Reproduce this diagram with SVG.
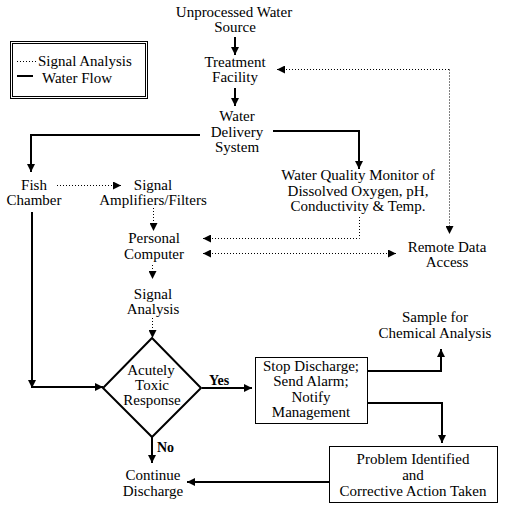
<svg xmlns="http://www.w3.org/2000/svg" width="509" height="511" viewBox="0 0 509 511" font-family="'Liberation Serif', 'DejaVu Serif', serif">
<style>
text{font-family:'Liberation Serif','DejaVu Serif',serif;font-size:15px;fill:#000;text-anchor:middle}
.b{font-weight:bold;font-size:14px}
.l{text-anchor:start}
.s{fill:none;stroke:#000;stroke-width:2}
.d{fill:none;stroke:#000;stroke-width:1;stroke-dasharray:1 2}
.box{fill:#fff;stroke:#000;stroke-width:1}
</style>
<defs>
<marker id="a" viewBox="0 0 8 8" refX="8" refY="4" markerWidth="8" markerHeight="8" markerUnits="userSpaceOnUse" orient="auto-start-reverse">
<path d="M0,0 L8,4 L0,8 z" fill="#000"/>
</marker>
</defs>
<rect width="509" height="511" fill="#fff"/>
<g id="legend">
<rect x="10.5" y="41.5" width="137" height="57" fill="none" stroke="#000"/>
<rect x="12.5" y="43.5" width="133" height="53" fill="none" stroke="#000"/>
<line x1="17" y1="61.5" x2="37" y2="61.5" class="d"/>
<text x="38" y="66" class="l">Signal Analysis</text>
<line x1="17" y1="76" x2="33" y2="76" class="s"/>
<text x="42" y="83" class="l">Water Flow</text>
</g>
<g id="connectors">
<line x1="235" y1="37" x2="235" y2="55" class="s" marker-end="url(#a)"/>
<line x1="235" y1="88" x2="235" y2="106" class="s" marker-end="url(#a)"/>
<polyline points="200,135 31,135 31,172" class="s" marker-end="url(#a)"/>
<polyline points="273,131 359,131 359,169" class="s" marker-end="url(#a)"/>
<polyline points="449,69.5 277,69.5" class="d" marker-end="url(#a)"/>
<polyline points="449.5,69.5 449.5,234" class="d" marker-end="url(#a)"/>
<line x1="57" y1="185.5" x2="121" y2="185.5" class="d" marker-end="url(#a)"/>
<line x1="153.5" y1="208" x2="153.5" y2="231" class="d" marker-end="url(#a)"/>
<polyline points="359.5,217 359.5,238.5 203,238.5" class="d" marker-end="url(#a)"/>
<line x1="203" y1="253.5" x2="396" y2="253.5" class="d" marker-start="url(#a)" marker-end="url(#a)"/>
<line x1="152.5" y1="265" x2="152.5" y2="279" class="d" marker-end="url(#a)"/>
<line x1="152.5" y1="318" x2="152.5" y2="338" class="d" marker-end="url(#a)"/>
<line x1="32" y1="212" x2="32" y2="388" class="s" marker-end="url(#a)"/>
<line x1="31" y1="387" x2="103" y2="387" class="s" marker-end="url(#a)"/>
<line x1="202" y1="388" x2="252" y2="388" class="s" marker-end="url(#a)"/>
<polyline points="368,371 441,371 441,349" class="s" marker-end="url(#a)"/>
<polyline points="368,403 442,403 442,443" class="s" marker-end="url(#a)"/>
<line x1="152" y1="437" x2="152" y2="463" class="s" marker-end="url(#a)"/>
<line x1="329" y1="482" x2="187" y2="482" class="s" marker-end="url(#a)"/>
<text x="219" y="385" class="b">Yes</text>
<text x="157" y="452" class="b l">No</text>
</g>
<g id="source"><text x="234" y="17">Unprocessed Water</text><text x="235" y="32">Source</text></g>
<g id="treatment"><text x="235" y="67">Treatment</text><text x="235" y="82">Facility</text></g>
<g id="delivery"><text x="237" y="121">Water</text><text x="237" y="137">Delivery</text><text x="237" y="152">System</text></g>
<g id="fish"><text x="34" y="190">Fish</text><text x="34" y="205">Chamber</text></g>
<g id="amplifiers"><text x="153" y="190">Signal</text><text x="153" y="205">Amplifiers/Filters</text></g>
<g id="monitor"><text x="358" y="180">Water Quality Monitor of</text><text x="358" y="196">Dissolved Oxygen, pH,</text><text x="358" y="211">Conductivity &amp; Temp.</text></g>
<g id="computer"><text x="154" y="243">Personal</text><text x="154" y="259">Computer</text></g>
<g id="remote"><text x="447" y="252">Remote Data</text><text x="447" y="267">Access</text></g>
<g id="analysis"><text x="153" y="299">Signal</text><text x="153" y="314">Analysis</text></g>
<g id="sample"><text x="435" y="322">Sample for</text><text x="435" y="338">Chemical Analysis</text></g>
<g id="decision">
<polygon points="152,338 201,388 152,437 103,388" fill="#fff" stroke="#000" stroke-width="2"/>
<text x="151" y="375">Acutely</text><text x="152" y="390">Toxic</text><text x="152" y="405">Response</text>
</g>
<g id="stop">
<rect x="255.5" y="357.5" width="112" height="66" class="box"/>
<text x="311" y="371">Stop Discharge;</text><text x="311" y="386">Send Alarm;</text><text x="311" y="402">Notify</text><text x="311" y="417">Management</text>
</g>
<g id="problem">
<rect x="329.5" y="446.5" width="168" height="56" class="box"/>
<text x="413" y="464">Problem Identified</text><text x="413" y="480">and</text><text x="413" y="496">Corrective Action Taken</text>
</g>
<g id="continue"><text x="153" y="480">Continue</text><text x="153" y="496">Discharge</text></g>
</svg>
